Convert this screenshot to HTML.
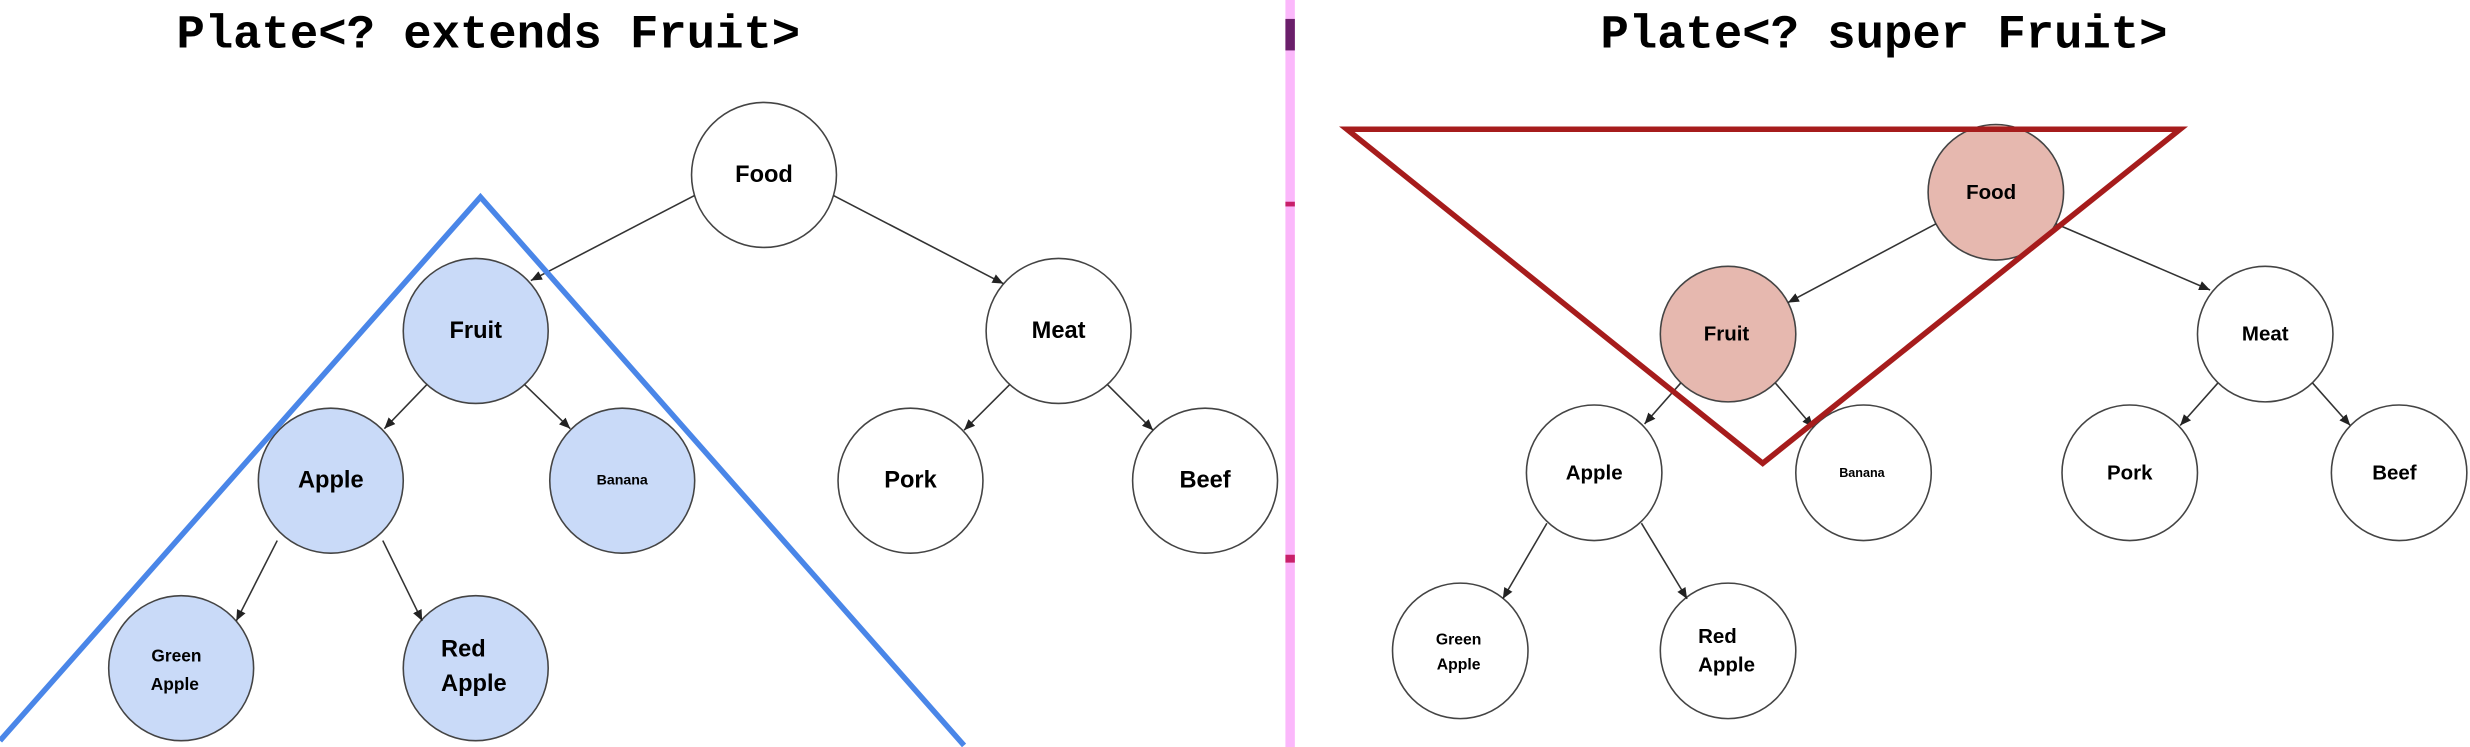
<!DOCTYPE html>
<html><head><meta charset="utf-8"><style>
html,body{margin:0;padding:0;background:#fff;}
svg{display:block}
.n{font-family:"Liberation Sans",Arial,sans-serif;font-weight:bold;fill:#000;text-anchor:middle;dominant-baseline:central}
.s{text-anchor:start}
.t{font-family:"Liberation Mono","Courier New",monospace;font-weight:bold;fill:#000;text-anchor:middle}
</style></head><body>
<svg width="2470" height="747" viewBox="0 0 1568 474" preserveAspectRatio="none" xmlns="http://www.w3.org/2000/svg">
<defs><marker id="a" markerWidth="8" markerHeight="8" refX="7" refY="4" orient="auto" markerUnits="userSpaceOnUse"><path d="M0,1 L7,4 L0,7 z" fill="#222"/></marker></defs>
<rect x="0" y="0" width="1568" height="474" fill="#fff"/>
<rect x="816" y="0" width="6" height="474" fill="#fbb8fb"/>
<rect x="816" y="12" width="6" height="20" fill="#6a1f6a"/>
<rect x="816" y="128" width="6" height="3" fill="#c8206a"/>
<rect x="816" y="352" width="6" height="5" fill="#c8206a"/>
<text class="t" x="310" y="30" font-size="30">Plate&lt;? extends Fruit&gt;</text>
<text class="t" x="1196" y="30" font-size="30">Plate&lt;? super Fruit&gt;</text>
<g stroke="#444" stroke-width="1">
<circle cx="485" cy="111" r="46" fill="#fff"/>
<circle cx="302" cy="210" r="46" fill="#c9daf8"/>
<circle cx="672" cy="210" r="46" fill="#fff"/>
<circle cx="210" cy="305" r="46" fill="#c9daf8"/>
<circle cx="395" cy="305" r="46" fill="#c9daf8"/>
<circle cx="578" cy="305" r="46" fill="#fff"/>
<circle cx="765" cy="305" r="46" fill="#fff"/>
<circle cx="115" cy="424" r="46" fill="#c9daf8"/>
<circle cx="302" cy="424" r="46" fill="#c9daf8"/>
<circle cx="1267" cy="122" r="43" fill="#e6b8af"/>
<circle cx="1097" cy="212" r="43" fill="#e6b8af"/>
<circle cx="1438" cy="212" r="43" fill="#fff"/>
<circle cx="1012" cy="300" r="43" fill="#fff"/>
<circle cx="1183" cy="300" r="43" fill="#fff"/>
<circle cx="1352" cy="300" r="43" fill="#fff"/>
<circle cx="1523" cy="300" r="43" fill="#fff"/>
<circle cx="927" cy="413" r="43" fill="#fff"/>
<circle cx="1097" cy="413" r="43" fill="#fff"/>
</g>
<g stroke="#333" stroke-width="1" fill="none" marker-end="url(#a)">
<line x1="441" y1="124" x2="337" y2="178"/>
<line x1="529" y1="124" x2="637" y2="180"/>
<line x1="271" y1="244" x2="244" y2="272"/>
<line x1="333" y1="244" x2="362" y2="272"/>
<line x1="641" y1="244" x2="612" y2="273"/>
<line x1="703" y1="244" x2="732" y2="273"/>
<line x1="176" y1="343" x2="150" y2="394"/>
<line x1="243" y1="343" x2="268" y2="394"/>
<line x1="1229" y1="142" x2="1135" y2="192"/>
<line x1="1305" y1="142" x2="1403" y2="184"/>
<line x1="1067" y1="243" x2="1044" y2="269"/>
<line x1="1127" y1="243" x2="1151" y2="271"/>
<line x1="1408" y1="243" x2="1384" y2="270"/>
<line x1="1468" y1="243" x2="1492" y2="270"/>
<line x1="982" y1="332" x2="954" y2="380"/>
<line x1="1042" y1="332" x2="1071" y2="380"/>
</g>
<g>
<text class="n" x="485" y="111" font-size="15">Food</text>
<text class="n" x="302" y="210" font-size="15">Fruit</text>
<text class="n" x="672" y="210" font-size="15">Meat</text>
<text class="n" x="210" y="305" font-size="15">Apple</text>
<text class="n" x="395" y="305" font-size="9">Banana</text>
<text class="n" x="578" y="305" font-size="15">Pork</text>
<text class="n" x="765" y="305" font-size="15">Beef</text>
<text class="n" x="112" y="416" font-size="11">Green</text>
<text class="n" x="111" y="434" font-size="11">Apple</text>
<text class="n s" x="280" y="412" font-size="15">Red</text>
<text class="n s" x="280" y="434" font-size="15">Apple</text>
<text class="n" x="1264" y="122" font-size="13">Food</text>
<text class="n" x="1096" y="212" font-size="13">Fruit</text>
<text class="n" x="1438" y="212" font-size="13">Meat</text>
<text class="n" x="1012" y="300" font-size="13">Apple</text>
<text class="n" x="1182" y="300" font-size="8">Banana</text>
<text class="n" x="1352" y="300" font-size="13">Pork</text>
<text class="n" x="1520" y="300" font-size="13">Beef</text>
<text class="n" x="926" y="406" font-size="10">Green</text>
<text class="n" x="926" y="422" font-size="10">Apple</text>
<text class="n s" x="1078" y="404" font-size="13">Red</text>
<text class="n s" x="1078" y="422" font-size="13">Apple</text>
</g>
<polyline points="0,470 305,125 612,473" fill="none" stroke="#4a86e8" stroke-width="3.5"/>
<polygon points="855,82 1384,82 1119,294" fill="none" stroke="#a61c1c" stroke-width="3.5"/>
</svg>
</body></html>
